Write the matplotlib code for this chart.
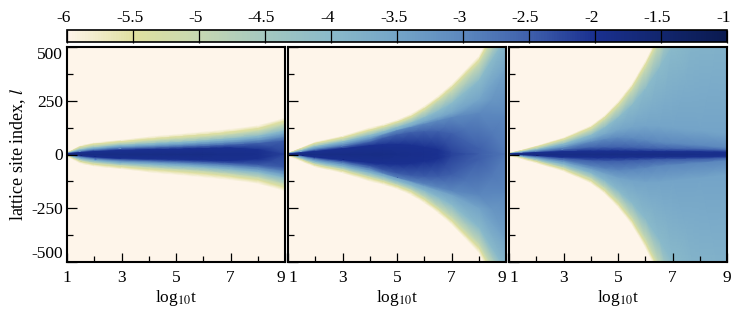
import numpy as np
import matplotlib
matplotlib.use('Agg')
import matplotlib.pyplot as plt
from matplotlib.colors import LinearSegmentedColormap, Normalize
from matplotlib.cm import ScalarMappable
from matplotlib.transforms import ScaledTranslation

plt.rcParams['font.family'] = ['Liberation Serif', 'DejaVu Serif']
plt.rcParams['mathtext.fontset'] = 'stix'
plt.rcParams['axes.unicode_minus'] = False

# time columns of the tables below
logt = [1, 1.5, 2, 3, 4, 4.5, 5, 5.5, 6, 6.5, 7, 8, 9]

# log10 density levels, and the site |l| where each level is reached
levels = [-6, -5.5, -5, -4, -3.5, -3, -2.5, -2]

widths_a = [
    [8, 42, 55, 68, 82, 88, 93, 99, 105, 111, 118, 135, 170],
    [7, 36, 48, 60, 71, 76, 81, 86, 91, 97, 104, 120, 155],
    [6, 30, 41, 52, 62, 67, 71, 75, 80, 86, 92, 108, 140],
    [5, 22, 31, 42, 48, 52, 55, 58, 62, 67, 72, 84, 110],
    [4.5, 18, 26, 36, 41, 44, 47, 50, 54, 58, 62, 73, 95],
    [4, 14, 22, 31, 35, 38, 40, 43, 46, 49, 53, 62, 80],
    [3.5, 11, 18, 25, 29, 31, 33, 35, 37, 40, 43, 50, 62],
    [3, 8, 13, 19, 22, 23, 24, 26, 27, 29, 30, 22, 0],
]
center_a = [-1.5, -1.8, -1.85, -1.85, -1.85, -1.85, -1.85, -1.85, -1.85, -1.9, -1.9, -1.95, -2.2]

widths_b = [
    [5, 32, 58, 86, 125, 140, 160, 187, 225, 271, 325, 457, 700],
    [4.5, 28, 52, 78, 113, 130, 150, 175, 212, 257, 310, 437, 670],
    [4, 24, 46, 70, 105, 122, 142, 165, 200, 245, 292, 417, 640],
    [3.5, 18, 36, 58, 88, 105, 125, 145, 170, 200, 235, 340, 540],
    [3.2, 14, 30, 50, 78, 94, 112, 130, 150, 170, 190, 250, 400],
    [3, 11, 24, 42, 68, 90, 110, 125, 140, 155, 170, 190, 180],
    [2.5, 9, 19, 34, 56, 75, 90, 100, 105, 105, 95, 25, 0],
    [2, 7, 14, 26, 40, 44, 45, 42, 32, 20, 8, 0, 0],
]
center_b = [-1.5, -1.75, -1.85, -1.85, -1.85, -1.85, -1.9, -1.92, -1.95, -2.0, -2.2, -2.5, -2.8]

widths_c = [
    [5, 22, 40, 78, 133, 180, 245, 325, 433, 560, 800, 1100, 1300],
    [4.5, 19, 35, 71, 124, 170, 232, 310, 415, 540, 780, 1080, 1280],
    [4, 16, 30, 63, 112, 157, 215, 292, 392, 515, 750, 1050, 1250],
    [3.5, 12, 22, 48, 88, 122, 168, 225, 300, 395, 500, 700, 800],
    [3.2, 10, 18, 38, 70, 90, 110, 122, 130, 128, 122, 110, 95],
    [3, 8, 14, 30, 56, 68, 75, 72, 65, 55, 50, 40, 30],
    [2.5, 6, 10, 20, 30, 32, 32, 30, 27, 25, 24, 22, 18],
    [2, 5, 8, 13, 15, 15, 15, 14, 14, 13, 13, 12, 10],
]
center_c = [-1.5, -1.7, -1.8, -1.85, -1.85, -1.85, -1.85, -1.85, -1.85, -1.85, -1.85, -1.9, -1.95]

panels = [(widths_a, center_a), (widths_b, center_b), (widths_c, center_c)]

# colour bar
cbar_ticks = [-6, -5.5, -5, -4.5, -4, -3.5, -3, -2.5, -2, -1.5, -1]
cbar_labels = ['-6', '-5.5', '-5', '-4.5', '-4', '-3.5', '-3', '-2.5', '-2', '-1.5', '-1']
cbar_colors = ['#fef5ea', '#dfe0a0', '#c6d8b2', '#a4c8c0', '#8abaca', '#74a5c8',
               '#5c88be', '#3f60ac', '#1a3090', '#12266e', '#0a1a50']

cmap = LinearSegmentedColormap.from_list('density', cbar_colors)
norm = Normalize(-6, -1)

W, H = 747, 309


def px_axes(x0, x1, y0, y1):
    return fig.add_axes([x0 / W, 1 - y1 / H, (x1 - x0) / W, (y1 - y0) / H])


fig = plt.figure(figsize=(7.47, 3.09), dpi=100)

cax = px_axes(67, 727, 29.5, 41.5)
cb = fig.colorbar(ScalarMappable(norm, cmap), cax=cax, orientation='horizontal',
                  ticklocation='top')
cb.set_ticks(cbar_ticks)
cb.set_ticklabels(cbar_labels)
cb.outline.set_linewidth(1.2)
cax.tick_params(axis='x', direction='in', length=9, width=0.9, pad=-0.5, labelsize=12.5)
for lab in cax.get_xticklabels():
    lab.set_transform(lab.get_transform() + ScaledTranslation(-3.5 / 100, 4 / 100, fig.dpi_scale_trans))

boxes = [(67, 285), (288, 506), (509, 727)]

for i, ((w, c), (x0, x1)) in enumerate(zip(panels, boxes)):
    ax = px_axes(x0, x1, 47, 262)
    ax.set_facecolor(cbar_colors[0])

    w = np.array(w, dtype=float)
    c = np.array(c)
    vals = np.minimum(np.array(levels)[:, None], c[None, :])
    Y = np.vstack([w, np.zeros((1, len(logt))), -w[::-1]])
    C = np.vstack([vals, c[None, :], vals[::-1]])
    T = np.tile(np.array(logt), (Y.shape[0], 1))
    ax.pcolormesh(T, Y, C, shading='gouraud', cmap=cmap, norm=norm)

    ax.set_xlim(1, 9)
    ax.set_ylim(-500, 500)
    ax.set_xticks([1, 3, 5, 7, 9])
    ax.set_xticks([2, 4, 6, 8], minor=True)
    ax.set_yticks([-500, -250, 0, 250, 500])
    ax.set_yticks([-375, -125, 125, 375], minor=True)
    ax.tick_params(which='major', direction='in', width=0.9, labelsize=12.5)
    ax.tick_params(axis='x', which='major', length=6.5, pad=6)
    ax.tick_params(axis='y', which='major', length=7, pad=3)
    ax.tick_params(which='minor', direction='in', width=0.9, length=4.6)
    for s in ax.spines.values():
        s.set_linewidth(1.5)

    ax.set_xticklabels(['1', '3', '5', '7', '9'])
    labs = ax.get_xticklabels()
    if i < 2:
        labs[-1].set_ha('right')
    if i > 0:
        labs[0].set_ha('left')
    ax.set_xlabel(r'log$_{10}$t', fontsize=12.5, labelpad=1)

    if i == 0:
        ax.set_yticklabels(['-500', '-250', '0', '250', '500'])
        ylabs = ax.get_yticklabels()
        ylabs[0].set_va('bottom')
        ylabs[-1].set_va('top')
        ax.set_ylabel('lattice site index, $\\mathit{l}$', fontsize=13, labelpad=2)
    else:
        ax.set_yticklabels([])

fig.savefig('out.png', dpi=100)
